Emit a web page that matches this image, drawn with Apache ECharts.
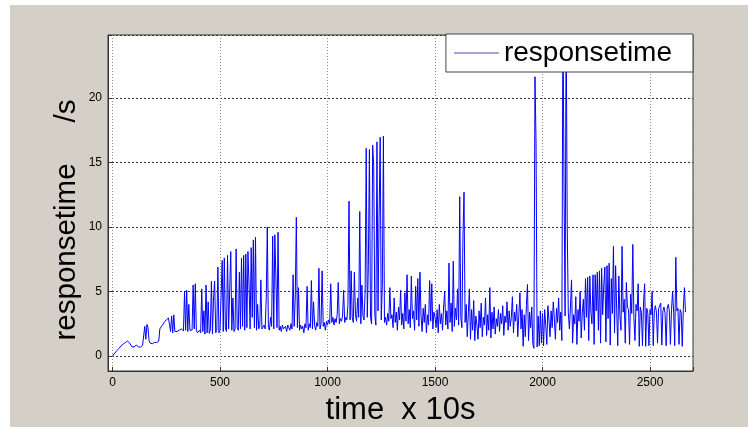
<!DOCTYPE html>
<html><head><meta charset="utf-8">
<script src="https://cdn.jsdelivr.net/npm/echarts@6/dist/echarts.min.js"></script>
<style>
html,body{margin:0;padding:0;background:#fff;}
#bg{position:absolute;left:10px;top:5px;width:738px;height:422px;background:#d4d0c8;}
#chart{position:absolute;left:0;top:0;width:748px;height:427px;}
</style></head><body>
<div id="bg"></div><div id="chart"></div>
<script>
const seriesName = 'responsetime';
const xTitle = 'time  x 10s';
const yTitle = 'responsetime     /s';
const xTickLabels = [0, 500, 1000, 1500, 2000, 2500];
const yTickLabels = [0, 5, 10, 15, 20];
const xRange = [-21, 2700];
const yRange = [-1.16, 24.88];
const sampleStep = 5; // one value every 5 time units (x 10s)
const responseTime = [
  0, 0.1, 0.22, 0.33, 0.42, 0.5, 0.6, 0.68, 0.78, 0.86, 0.93, 0.98, 1.05, 1.1, 1.16, 1.1, 1.0, 0.85, 0.72, 0.66,
  0.7, 0.8, 0.85, 0.82, 0.72, 0.75, 0.68, 0.6, 0.85, 0.9, 2.3, 1.3, 2.45, 2.2, 1.2, 1.0, 1.05, 0.95, 1.0, 1.05,
  1.0, 1.05, 1.1, 1.15, 2.1, 2.2, 2.35, 2.5, 2.6, 2.7, 2.8, 2.9, 2.95, 3.0, 1.9, 3.1, 1.8, 3.2, 1.9, 1.85,
  1.9, 1.95, 2.0, 1.9, 2.1, 2.0, 1.95, 5.0, 2.0, 5.1, 1.9, 4.0, 2.0, 2.1, 2.0, 5.5, 2.1, 5.6, 2.0, 1.8,
  1.9, 2.0, 1.8, 5.2, 1.9, 3.5, 1.7, 5.5, 1.8, 4.2, 1.75, 2.0, 5.8, 1.7, 4.5, 5.8, 1.8, 2.0, 6.9, 1.8,
  2.0, 2.1, 7.4, 1.9, 7.6, 2.2, 1.9, 7.8, 2.1, 2.0, 8.1, 2.0, 4.5, 1.9, 2.1, 8.3, 2.2, 2.0, 6.5, 2.1,
  7.6, 2.3, 7.8, 2.0, 7.9, 2.2, 8.1, 5.5, 2.1, 8.4, 3.0, 9.0, 2.2, 9.2, 2.0, 4.0, 2.1, 2.3, 5.9, 2.1,
  2.0, 2.4, 2.1, 4.5, 10.0, 2.2, 2.0, 3.0, 2.3, 9.3, 2.1, 9.4, 6.0, 2.2, 9.6, 2.0, 2.3, 1.9, 2.4, 2.1,
  2.0, 2.3, 1.9, 2.4, 2.2, 2.0, 2.5, 2.1, 6.3, 2.3, 4.5, 10.75, 2.2, 5.3, 2.0, 2.4, 2.1, 2.3, 1.8, 2.5,
  2.2, 5.4, 2.0, 2.5, 2.2, 5.85, 2.1, 4.2, 2.4, 2.0, 2.6, 2.3, 6.8, 2.1, 2.5, 6.6, 2.3, 2.6, 2.0, 2.7,
  2.4, 2.8, 2.5, 5.6, 2.6, 3.0, 2.4, 2.9, 2.6, 3.2, 5.7, 2.5, 2.9, 2.7, 3.1, 5.1, 2.6, 3.0, 2.8, 4.0,
  12.0, 2.8, 6.6, 3.0, 2.6, 6.5, 3.2, 2.7, 4.5, 3.0, 11.2, 2.5, 5.5, 3.1, 2.8, 5.0, 16.1, 3.0, 7.0, 16.0,
  3.0, 2.5, 16.35, 14.7, 3.2, 2.4, 16.6, 3.5, 11.0, 16.95, 2.8, 5.5, 17.05, 2.6, 3.0, 2.4, 3.3, 2.7, 5.3, 2.9,
  3.2, 2.2, 4.5, 2.6, 3.4, 2.0, 3.8, 2.8, 5.1, 2.4, 3.3, 2.1, 4.9, 2.7, 6.3, 2.5, 3.6, 2.2, 6.2, 2.9,
  3.5, 2.0, 5.4, 2.8, 6.0, 2.3, 6.5, 3.1, 1.9, 3.7, 2.6, 4.0, 1.8, 3.2, 2.4, 5.85, 2.7, 5.6, 2.1, 3.4,
  3.0, 2.2, 3.6, 1.8, 4.0, 2.5, 3.3, 2.0, 3.8, 5.0, 2.4, 3.5, 2.1, 7.2, 2.6, 4.1, 1.9, 7.35, 2.3, 3.7,
  2.8, 5.2, 2.4, 12.35, 3.0, 2.2, 9.3, 12.7, 2.6, 4.0, 1.5, 3.3, 5.2, 1.3, 3.6, 2.0, 4.3, 1.2, 3.1, 2.4,
  1.3, 3.5, 2.2, 4.1, 1.5, 3.0, 2.4, 4.5, 1.6, 3.2, 2.0, 5.3, 1.4, 3.4, 2.1, 3.8, 1.7, 2.9, 2.3, 3.6,
  1.9, 3.3, 2.5, 3.9, 1.6, 3.1, 2.6, 4.2, 2.0, 3.5, 2.3, 3.0, 4.6, 1.8, 3.4, 2.7, 4.0, 1.5, 3.2, 4.9,
  2.1, 3.6, 0.75, 3.2, 1.5, 3.9, 5.55, 1.2, 3.4, 2.2, 3.8, 0.9, 0.6, 21.65, 16.5, 0.7, 3.1, 0.8, 3.5, 1.0,
  3.3, 0.8, 3.6, 2.4, 0.9, 3.9, 2.8, 1.5, 3.5, 2.2, 4.2, 2.9, 1.3, 3.7, 2.6, 4.5, 2.0, 3.4, 1.2, 27.0,
  13.4, 3.1, 26.5, 10.0, 3.4, 2.1, 3.8, 5.9, 1.0, 3.2, 2.5, 4.6, 0.9, 3.6, 2.7, 5.0, 1.4, 3.3, 4.4, 2.0,
  6.0, 3.0, 6.1, 1.2, 6.2, 3.4, 2.5, 6.3, 0.9, 6.3, 3.5, 6.5, 2.0, 6.6, 1.0, 6.8, 3.2, 5.5, 6.9, 1.1,
  7.0, 2.9, 7.2, 0.85, 6.0, 3.3, 8.5, 1.8, 7.0, 3.6, 0.8, 6.2, 3.1, 2.0, 8.5, 3.4, 4.4, 1.0, 5.7, 3.8,
  3.6, 0.9, 4.8, 3.3, 8.65, 3.0, 1.2, 4.0, 3.5, 5.6, 0.75, 3.8, 3.4, 0.8, 4.2, 5.6, 0.75, 3.7, 3.3, 0.8,
  3.6, 3.2, 5.0, 0.8, 3.5, 3.9, 3.4, 1.0, 3.7, 3.6, 4.1, 0.85, 3.5, 3.8, 3.3, 0.8, 3.7, 4.0, 3.5, 0.9,
  3.6, 5.0, 3.4, 0.8, 7.65, 3.5, 3.7, 0.9, 3.6, 3.4, 0.75, 3.6, 5.3, 3.4
];

const FONT = '"Liberation Sans", Arial, sans-serif';
const seriesData = responseTime.map((v, i) => [i * sampleStep, v]);
const onTick = (list) => (v) => {
  for (const t of list) { if (Math.abs(v - t) < 1e-6) return String(t); }
  return '';
};

const chart = echarts.init(document.getElementById('chart'), null, {renderer: 'canvas'});
chart.setOption({
  animation: false,
  backgroundColor: 'transparent',
  grid: {left: 108, top: 35, right: 55, bottom: 56, show: true, containLabel: false,
         outerBoundsMode: 'none',
         backgroundColor: '#ffffff', borderColor: '#333', borderWidth: 1},
  legend: {
    show: true, right: 55, top: 34, padding: [5, 21, 5, 8],
    itemWidth: 45, itemHeight: 1, itemGap: 0,
    backgroundColor: '#ffffff', borderColor: '#444', borderWidth: 1,
    textStyle: {fontSize: 28, color: '#000', fontFamily: FONT},
    data: [{name: seriesName, icon: 'rect', itemStyle: {color: '#4848b8'}}]
  },
  xAxis: {
    type: 'value', min: xRange[0], max: xRange[1],
    minInterval: 500, maxInterval: 500,
    name: xTitle, nameLocation: 'middle', nameGap: 24,
    nameTextStyle: {fontSize: 31, color: '#000', fontFamily: FONT},
    axisLine: {show: true, onZero: false, lineStyle: {color: '#333'}},
    axisTick: {show: true, inside: true, length: 4, lineStyle: {color: '#333'}},
    axisLabel: {formatter: onTick(xTickLabels), fontSize: 12, color: '#000', fontFamily: FONT, margin: 6},
    splitLine: {show: true, lineStyle: {color: '#888', type: [1, 2]}}
  },
  yAxis: {
    type: 'value', min: yRange[0], max: yRange[1],
    minInterval: 5, maxInterval: 5,
    axisLine: {show: true, onZero: false, lineStyle: {color: '#333'}},
    axisTick: {show: true, inside: true, length: 4, lineStyle: {color: '#333'}},
    axisLabel: {formatter: onTick(yTickLabels), fontSize: 12, color: '#000', fontFamily: FONT, margin: 6},
    splitLine: {show: true, lineStyle: {color: '#333', type: [2, 2]}}
  },
  graphic: [{
    type: 'text', x: 67, y: 220, rotation: Math.PI / 2,
    style: {text: yTitle, fontSize: 29.5, fontFamily: FONT, fill: '#000', align: 'center', verticalAlign: 'middle'}
  }],
  series: [{
    name: seriesName, type: 'line', data: seriesData,
    symbol: 'none', showSymbol: false, sampling: null, clip: true,
    lineStyle: {color: '#0000ff', width: 1},
    itemStyle: {color: '#0000ff'}
  }]
});
</script>
</body></html>
